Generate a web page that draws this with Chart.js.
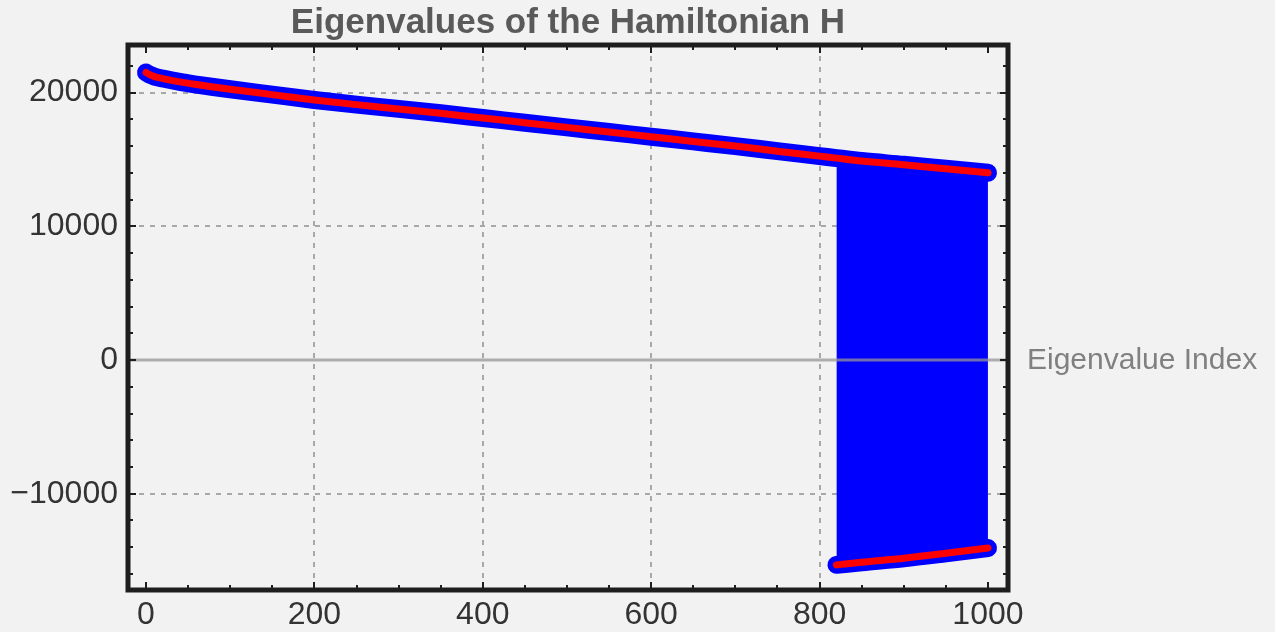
<!DOCTYPE html>
<html>
<head>
<meta charset="utf-8">
<script src="https://cdn.jsdelivr.net/npm/chart.js@4.4.1/dist/chart.umd.min.js"></script>
<style>
  html, body { margin: 0; padding: 0; background: #f2f2f2; }
  #wrap { width: 1275px; height: 632px; position: relative; }
</style>
</head>
<body>
<div id="wrap"><canvas id="eig"></canvas></div>
<script>
// ---------------------- Data ----------------------
const upperIdx = [0, 5, 10, 20, 40, 60, 80, 100, 150, 200, 250, 300, 350, 400, 450, 500,
                  550, 600, 650, 700, 750, 800, 820, 850, 900, 950, 1000];
const upperVal = [21500, 21320, 21200, 21050, 20800, 20600, 20420, 20250, 19850, 19450,
                  19100, 18780, 18450, 18100, 17750, 17400, 17050, 16700, 16350, 16000,
                  15620, 15250, 15100, 14880, 14600, 14300, 14000];
const lowerIdx = [820, 850, 900, 950, 1000];
const lowerVal = [-15320, -15120, -14820, -14450, -14060];

const xTicks = [0, 200, 400, 600, 800, 1000];
const yTicks = [-10000, 0, 10000, 20000];

const TITLE = 'Eigenvalues of the Hamiltonian H';
const AXIS_LABEL = 'Eigenvalue Index';

const C = { blue: '#0000ff', red: '#ff0000', frame: '#1e1e1e', grid: '#a8a8a8' };
const FONT = '"Liberation Sans", Arial, sans-serif';

// ---------------------- helpers ----------------------
const pts = (xs, ys) => xs.map((x, i) => ({ x, y: ys[i] }));
const tailStart = upperIdx.indexOf(lowerIdx[0]);
const upperTail = pts(upperIdx.slice(tailStart), upperVal.slice(tailStart));

// frame, ticks, grid and texts
const decor = {
  id: 'decor',
  beforeDatasetsDraw(chart) {
    const { ctx, chartArea: a, scales: { x, y } } = chart;
    ctx.save();
    ctx.strokeStyle = C.grid;
    ctx.lineWidth = 2;
    ctx.setLineDash([5, 6]);
    xTicks.forEach(v => {
      if (v === 0 || v === 1000) return;
      const px = Math.round(x.getPixelForValue(v));
      ctx.beginPath(); ctx.moveTo(px, a.top); ctx.lineTo(px, a.bottom); ctx.stroke();
    });
    yTicks.forEach(v => {
      if (v === 0) return;
      const py = Math.round(y.getPixelForValue(v));
      ctx.beginPath(); ctx.moveTo(a.left, py); ctx.lineTo(a.right, py); ctx.stroke();
    });
    ctx.restore();
  },
  afterDatasetsDraw(chart) {
    const { ctx, chartArea: a, scales: { x, y } } = chart;
    ctx.save();
    // zero axis line
    const y0 = Math.round(y.getPixelForValue(0));
    ctx.strokeStyle = 'rgba(150,150,150,0.75)';
    ctx.lineWidth = 3;
    ctx.beginPath(); ctx.moveTo(a.left, y0); ctx.lineTo(a.right, y0); ctx.stroke();

    // ticks (inward, all four sides)
    ctx.strokeStyle = C.frame;
    ctx.lineWidth = 2;
    for (let v = 0; v <= 1000; v += 50) {
      const px = Math.round(x.getPixelForValue(v));
      const len = v % 200 === 0 ? 8 : 5;
      ctx.beginPath();
      ctx.moveTo(px, a.bottom); ctx.lineTo(px, a.bottom - len);
      ctx.moveTo(px, a.top); ctx.lineTo(px, a.top + len);
      ctx.stroke();
    }
    for (let v = -16000; v <= 22000; v += 2000) {
      const py = Math.round(y.getPixelForValue(v));
      const len = v % 10000 === 0 ? 8 : 5;
      ctx.beginPath();
      ctx.moveTo(a.left, py); ctx.lineTo(a.left + len, py);
      ctx.moveTo(a.right, py); ctx.lineTo(a.right - len, py);
      ctx.stroke();
    }
    // frame
    ctx.lineWidth = 5;
    ctx.strokeRect(a.left, a.top, a.right - a.left, a.bottom - a.top);

    // title
    ctx.fillStyle = '#5a5a5a';
    ctx.font = 'bold 35px ' + FONT;
    ctx.textAlign = 'center';
    ctx.textBaseline = 'alphabetic';
    ctx.fillText(TITLE, 568, 33);

    // axis label at y = 0
    ctx.fillStyle = '#808080';
    ctx.font = '30px ' + FONT;
    ctx.textAlign = 'left';
    ctx.fillText(AXIS_LABEL, a.right + 19, y0 + 9);
    ctx.restore();
  },
};

const fmt = v => (v < 0 ? '\u2212' + Math.abs(v) : String(v));

new Chart(document.getElementById('eig'), {
  type: 'line',
  data: {
    datasets: [
      { data: pts(upperIdx, upperVal), borderColor: C.red, borderWidth: 7, order: 1 },
      { data: pts(lowerIdx, lowerVal), borderColor: C.red, borderWidth: 7, order: 1 },
      { data: pts(upperIdx, upperVal), borderColor: C.blue, borderWidth: 18, order: 3 },
      { data: pts(lowerIdx, lowerVal), borderColor: C.blue, borderWidth: 18, order: 3 },
      { data: upperTail, borderWidth: 0, borderColor: 'rgba(0,0,0,0)', order: 6 },
      { data: pts(lowerIdx, lowerVal), borderWidth: 8, borderColor: C.blue,
        borderCapStyle: 'butt', backgroundColor: C.blue, fill: 4, order: 5 },
    ],
  },
  options: {
    responsive: true,
    maintainAspectRatio: false,
    animation: false,
    layout: { padding: { left: 0, top: 45, right: 267, bottom: 0 } },
    elements: {
      point: { radius: 0, hoverRadius: 0 },
      line: { borderCapStyle: 'round', borderJoinStyle: 'round', cubicInterpolationMode: 'monotone', fill: false },
    },
    plugins: { legend: { display: false }, tooltip: { enabled: false }, filler: { propagate: false } },
    scales: {
      x: {
        type: 'linear',
        min: -21.4,
        max: 1023.8,
        afterFit: s => { s.height = 42; },
        afterBuildTicks: s => { s.ticks = xTicks.map(v => ({ value: v })); },
        grid: { display: false, drawTicks: false },
        border: { display: false },
        ticks: {
          autoSkip: false, maxRotation: 0, padding: 6, color: '#333',
          font: { family: FONT, size: 32 },
          callback: fmt,
        },
      },
      y: {
        type: 'linear',
        min: -17200,
        max: 23560,
        afterFit: s => { s.width = 128; },
        afterBuildTicks: s => { s.ticks = yTicks.map(v => ({ value: v })); },
        grid: { display: false, drawTicks: false },
        border: { display: false },
        ticks: {
          autoSkip: false, padding: 10, color: '#333',
          font: { family: FONT, size: 32 },
          callback: fmt,
        },
      },
    },
  },
  plugins: [decor],
});
</script>
</body>
</html>
